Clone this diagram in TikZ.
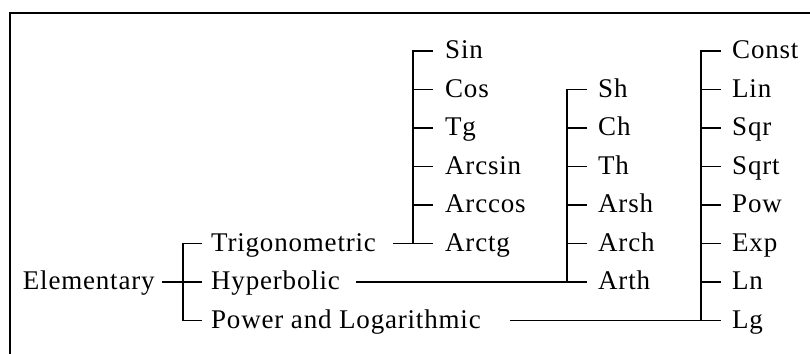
\documentclass[tikz,border=0pt]{standalone}
\usepackage{fontspec}
\setmainfont{Liberation Serif}[LetterSpace=3]
\begin{document}
\begin{tikzpicture}[x=1pt,y=-1pt,
  lbl/.style={anchor=base west, inner sep=0pt, font=\fontsize{27}{30}\selectfont},
  ln/.style={line width=1.6pt},
  frameline/.style={line width=2pt}]
\useasboundingbox (0,0) rectangle (810,353);
\draw[frameline] (10,356) -- (10,12.7) -- (812,12.7);
% root and first level
\node[lbl] (elem) at (22.7,289.5) {Elementary};
\node[lbl] (trig) at (211,251) {Trigonometric};
\node[lbl] (hyp)  at (211,289.5) {Hyperbolic};
\node[lbl] (pow)  at (211,328) {Power and Logarithmic};
% trigonometric children
\node[lbl] (sin) at (445,58.5) {Sin};
\node[lbl] (cos) at (445,97) {Cos};
\node[lbl] (tg)  at (445,135.5) {Tg};
\node[lbl] (asin) at (445,174) {Arcsin};
\node[lbl] (acos) at (445,212.5) {Arccos};
\node[lbl] (atg) at (445,251) {Arctg};
% hyperbolic children
\node[lbl] (sh) at (598,97) {Sh};
\node[lbl] (ch) at (598,135.5) {Ch};
\node[lbl] (th) at (598,174) {Th};
\node[lbl] (arsh) at (598,212.5) {Arsh};
\node[lbl] (arch) at (598,251) {Arch};
\node[lbl] (arth) at (598,289.5) {Arth};
% power children
\node[lbl] (const) at (732,58.5) {Const};
\node[lbl] (lin) at (732,97) {Lin};
\node[lbl] (sqr) at (732,135.5) {Sqr};
\node[lbl] (sqrt) at (732,174) {Sqrt};
\node[lbl] (pw) at (732,212.5) {Pow};
\node[lbl] (exp) at (732,251) {Exp};
\node[lbl] (ln) at (732,289.5) {Ln};
\node[lbl] (lg) at (732,328) {Lg};
% junction coordinates
\coordinate (e0) at (162,282);
\coordinate (e1) at (183,282);
\coordinate (t0) at (393,243.5);
\coordinate (t1) at (413,243.5);
\coordinate (h0) at (356,282);
\coordinate (h1) at (567,282);
\coordinate (p0) at (510,320.5);
\coordinate (p1) at (701,320.5);
% elementary bracket
\draw[ln] (e0) -- (e1);
\draw[ln] ([shift={(-9,-7.5)}]trig.base west) -- (183,243.5) -- (183,320.5) -- ([shift={(-9,-7.5)}]pow.base west);
\draw[ln] (e1) -- ([shift={(-9,-7.5)}]hyp.base west);
% trigonometric bracket
\draw[ln] (t0) -- ([shift={(-12,-7.5)}]atg.base west);
\draw[ln] ([shift={(-12,-7.5)}]sin.base west) -- (413,51) -- (t1);
\foreach \c in {cos,tg,asin,acos}
  \draw[ln] ([shift={(-12,-7.5)}]\c.base west) -- ++(-20,0);
% hyperbolic bracket
\draw[ln] (h0) -- ([shift={(-11,-7.5)}]arth.base west);
\draw[ln] ([shift={(-11,-7.5)}]sh.base west) -- (567,89.5) -- (h1);
\foreach \c in {ch,th,arsh,arch}
  \draw[ln] ([shift={(-11,-7.5)}]\c.base west) -- ++(-20,0);
% power bracket
\draw[ln] (p0) -- ([shift={(-11,-7.5)}]lg.base west);
\draw[ln] ([shift={(-11,-7.5)}]const.base west) -- (701,51) -- (p1);
\foreach \c in {lin,sqr,sqrt,pw,exp,ln}
  \draw[ln] ([shift={(-11,-7.5)}]\c.base west) -- ++(-20,0);
\end{tikzpicture}
\end{document}
